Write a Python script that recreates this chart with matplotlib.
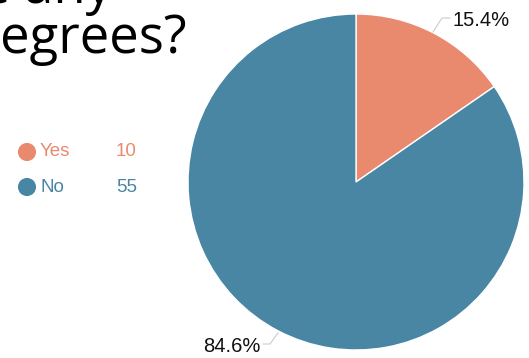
import matplotlib.pyplot as plt

# survey answers
answers = ["Yes", "No"]
counts = [10, 55]
colors = ["#E98A6F", "#4886A4"]

W, H = 529, 358

fig = plt.figure(figsize=(W / 100, H / 100), dpi=100)
ax = fig.add_axes([0, 0, 1, 1])

# pie, in pixel units (y measured from the bottom)
cx, cy, r = 356, H - 182, 168
wedges, _ = ax.pie(
    counts,
    colors=colors,
    startangle=90,
    counterclock=False,
    center=(cx, cy),
    radius=r,
    wedgeprops=dict(edgecolor="white", linewidth=1),
)

# percentage labels with thin leader lines
total = sum(counts)
pcts = ["%.1f%%" % (100 * c / total) for c in counts]
ax.plot([433, 442, 450], [H - 32, H - 18, H - 18], color="#cccccc", lw=0.8)
ax.text(453, H - 21, pcts[0], fontsize=14.5, family="Liberation Sans",
        ha="left", va="center", color="#111111")
ax.plot([278, 270, 263], [H - 333, H - 344, H - 344], color="#cccccc", lw=0.8)
ax.text(261, H - 347, pcts[1], fontsize=14.5, family="Liberation Sans",
        ha="right", va="center", color="#111111")

# legend: dot, name, count
for i, (name, n, col) in enumerate(zip(answers, counts, colors)):
    y = H - (152 + 35 * i)
    ax.scatter([27], [y], s=170, color=col, edgecolors="none")
    ax.text(40, y, name, fontsize=13.5, family="Liberation Sans",
            ha="left", va="center", color=col)
    ax.text(116, y, str(n), fontsize=13.5, family="Liberation Sans",
            ha="left", va="center", color=col)

# question title, partly running off the canvas
ax.text(112, H - 3, "Do you have any", fontsize=38, family="Open Sans",
        weight="normal", ha="right", va="baseline", color="black")
ax.text(187, H - 53, "degrees?", fontsize=38, family="Open Sans",
        weight="normal", ha="right", va="baseline", color="black")

ax.set_xlim(0, W)
ax.set_ylim(0, H)
ax.set_aspect("equal")
ax.axis("off")

fig.savefig("out.png", dpi=100)
